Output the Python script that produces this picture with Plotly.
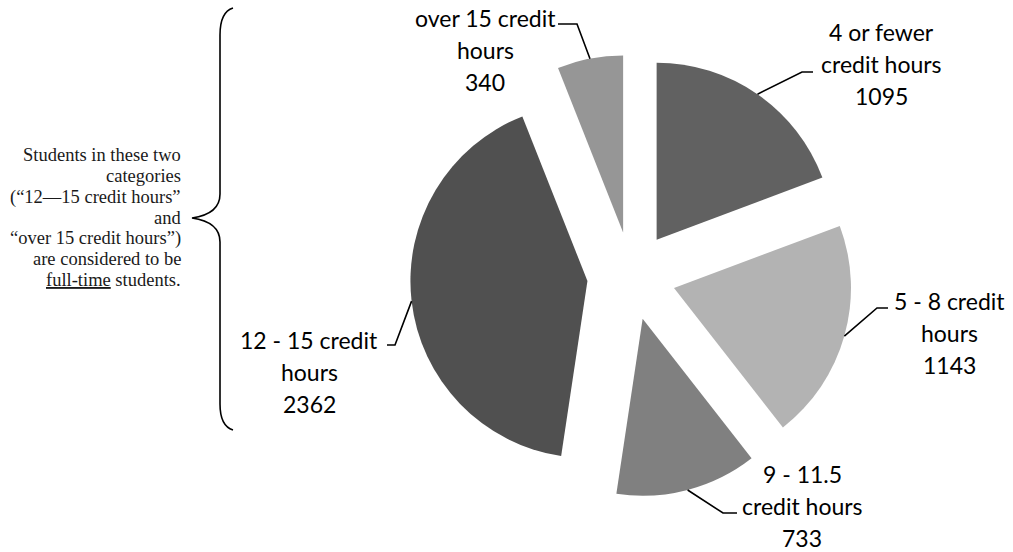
import math
import plotly.graph_objects as go

# ---------------- data ----------------
categories = ["4 or fewer credit hours", "5 - 8 credit hours", "9 - 11.5 credit hours",
              "12 - 15 credit hours", "over 15 credit hours"]
values = [1095, 1143, 733, 2362, 340]
label_lines = [["4 or fewer", "credit hours"], ["5 - 8 credit", "hours"],
               ["9 - 11.5", "credit hours"], ["12 - 15 credit", "hours"],
               ["over 15 credit", "hours"]]
note_lines = ["Students in these two", "categories", "(\u201c12\u201415 credit hours\u201d",
              "and", "\u201cover 15 credit hours\u201d)", "are considered to be",
              "<u>full-time</u> students."]

# ---------------- styles / layout ----------------
colors = ["#616161", "#b3b3b3", "#808080", "#505050", "#969696"]
W, H = 1013, 552
PIE_CX, PIE_CY, PIE_R, PULL = 631.4, 276.0, 177.0, 0.25
LABEL_FONT = dict(family="Lato, Carlito, Calibri, sans-serif", size=23, color="#000000")
NOTE_FONT = dict(family="Liberation Serif, Times New Roman, serif", size=18.5, color="#1a1a1a")
LINE_PITCH = 32
# label placement: (x center, first baseline, elbow point, horizontal end point)
label_layout = [
    (881, 40, (802, 72), (813, 72)),
    (949, 309, (877, 308), (888, 308)),
    (802, 482, (723, 513), (737, 513)),
    (309, 348, (395, 345), (387, 345)),
    (485, 26, (577, 24), (558, 24)),
]


def px(x):
    return x / W


def py(y):
    return 1 - y / H


R_OUT = PIE_R * (1 + PULL)
fig = go.Figure(go.Pie(
    labels=categories,
    values=values,
    sort=False,
    direction="clockwise",
    rotation=0,
    pull=[PULL] * len(values),
    marker=dict(colors=colors, line=dict(width=0)),
    textinfo="none",
    hoverinfo="label+value",
    showlegend=False,
    domain=dict(x=[px(PIE_CX - R_OUT), px(PIE_CX + R_OUT)],
                y=[py(PIE_CY + R_OUT), py(PIE_CY - R_OUT)]),
))

annotations = []
shapes = []
total = sum(values)
cum = 0.0
for i, v in enumerate(values):
    mid = (cum + v / 2) / total * 2 * math.pi
    cum += v
    ax = PIE_CX + R_OUT * math.sin(mid)
    ay = PIE_CY - R_OUT * math.cos(mid)
    xc, base, elbow, end = label_layout[i]
    lines = label_lines[i] + [str(v)]
    for k, t in enumerate(lines):
        yb = base + k * LINE_PITCH
        annotations.append(dict(
            x=px(xc), y=py(yb - 0.36 * LABEL_FONT["size"]), xref="paper", yref="paper",
            text=t, showarrow=False, xanchor="center", yanchor="middle", font=LABEL_FONT))
    path = "M {:.5f},{:.5f} L {:.5f},{:.5f} L {:.5f},{:.5f}".format(
        px(ax), py(ay), px(elbow[0]), py(elbow[1]), px(end[0]), py(end[1]))
    shapes.append(dict(type="path", xref="paper", yref="paper", path=path,
                       line=dict(color="#000000", width=1.6)))

# side note
NOTE_RIGHT, NOTE_BASE0, NOTE_PITCH = 183, 161.7, 20.8
for k, t in enumerate(note_lines):
    yb = NOTE_BASE0 + k * NOTE_PITCH
    annotations.append(dict(
        x=px(NOTE_RIGHT), y=py(yb - 0.34 * NOTE_FONT["size"]), xref="paper", yref="paper",
        text=t, showarrow=False, xanchor="right", yanchor="middle", font=NOTE_FONT))

# curly brace
bp = [(233, 8), (220, 12), (220, 35), (220, 194), (220, 214), (192, 218),
      (220, 222), (220, 242), (220, 404), (220, 426), (233, 430)]
brace = ("M {},{} Q {},{} {},{} L {},{} Q {},{} {},{} Q {},{} {},{} L {},{} Q {},{} {},{}").format(
    *[f"{c:.5f}" for p in bp for c in (px(p[0]), py(p[1]))])
shapes.append(dict(type="path", xref="paper", yref="paper", path=brace,
                   line=dict(color="#000000", width=1.6)))

fig.update_layout(
    width=W, height=H,
    margin=dict(l=0, r=0, t=0, b=0),
    paper_bgcolor="#ffffff", plot_bgcolor="#ffffff",
    annotations=annotations, shapes=shapes,
)

fig.write_html("out.html", config={"displayModeBar": False},
               post_script="document.body.style.margin='0';document.body.style.overflow='hidden';")
